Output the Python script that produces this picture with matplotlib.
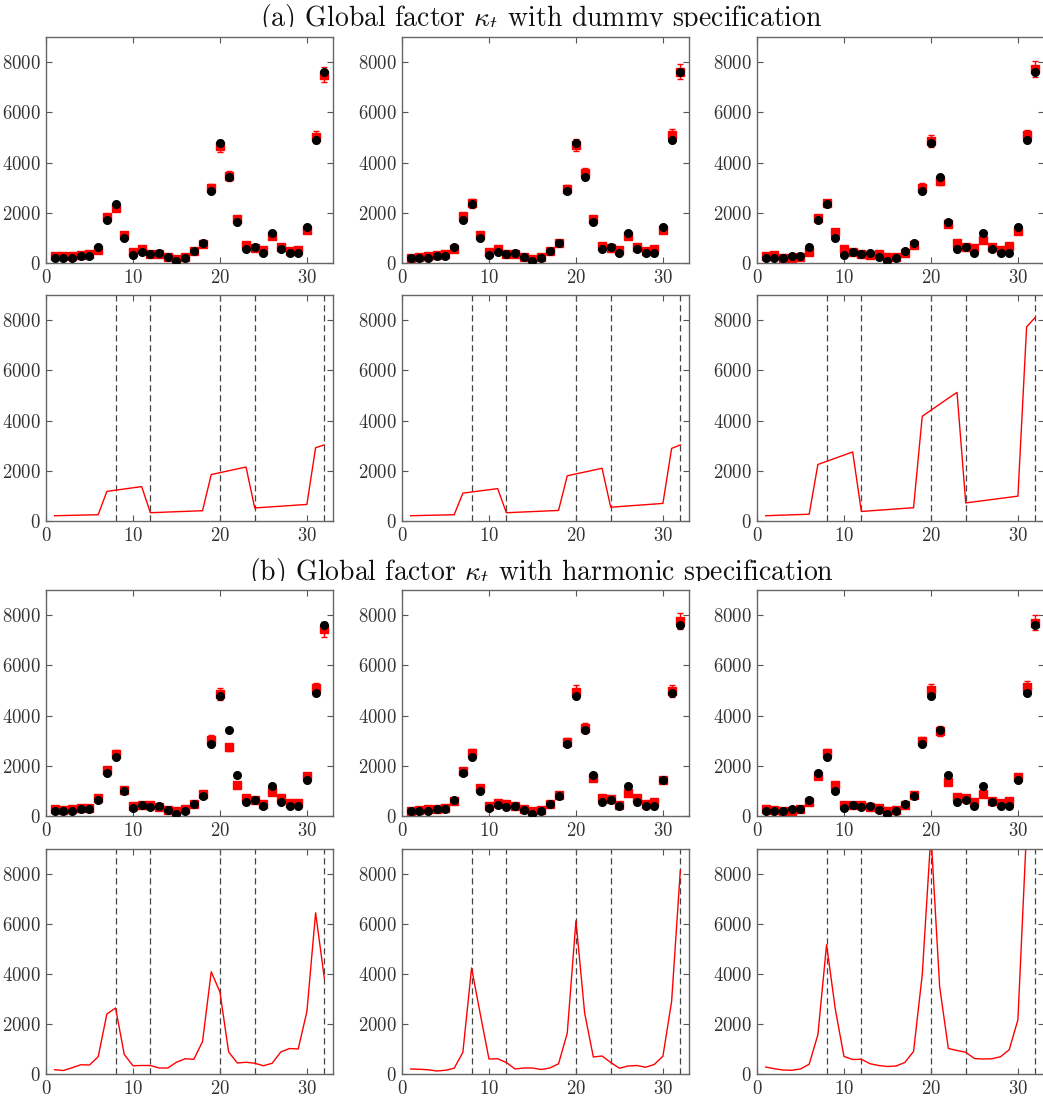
import matplotlib
matplotlib.use("Agg")
import matplotlib.pyplot as plt
from matplotlib.transforms import Bbox, TransformedBbox

plt.rcParams["font.family"] = ["cmr10", "DejaVu Serif"]
plt.rcParams["mathtext.fontset"] = "cm"
plt.rcParams["axes.formatter.use_mathtext"] = True
plt.rcParams["axes.unicode_minus"] = False

t = list(range(1, 33))
breaks = [8, 12, 20, 24, 32]

# observed counts, same in every panel
observed = [200, 200, 200, 260, 270, 630, 1700, 2330, 1000, 310, 430, 370,
            400, 230, 90, 180, 460, 780, 2870, 4790, 3430, 1630, 540, 630,
            390, 1190, 570, 400, 410, 1440, 4900, 7620]

# fitted means, dummy specification (three models)
fit_dummy = [
    [260, 260, 260, 300, 340, 520, 1850, 2200, 1120, 450, 560, 350,
     360, 250, 150, 230, 490, 750, 3000, 4650, 3450, 1750, 730, 600,
     500, 1080, 640, 490, 530, 1320, 5020, 7500],
    [200, 240, 290, 330, 370, 560, 1890, 2370, 1120, 430, 550, 350,
     360, 230, 150, 250, 490, 790, 2950, 4700, 3600, 1770, 660, 600,
     500, 1080, 640, 470, 570, 1300, 5080, 7620],
    [280, 310, 210, 210, 250, 440, 1800, 2370, 1250, 560, 430, 350,
     310, 350, 250, 250, 410, 720, 3000, 4850, 3280, 1540, 790, 620,
     580, 920, 620, 530, 660, 1260, 5080, 7720],
]
err_dummy = [
    [20, 20, 20, 20, 20, 30, 90, 110, 60, 30, 30, 20,
     20, 20, 10, 20, 30, 40, 150, 230, 200, 90, 40, 30,
     30, 50, 30, 30, 30, 70, 250, 300],
    [20, 20, 20, 20, 20, 30, 90, 170, 60, 30, 30, 20,
     20, 20, 10, 20, 30, 40, 170, 240, 200, 90, 40, 30,
     30, 50, 30, 30, 30, 70, 250, 310],
    [20, 20, 20, 20, 20, 30, 90, 150, 60, 30, 30, 20,
     20, 20, 10, 20, 30, 40, 170, 250, 180, 80, 40, 30,
     30, 50, 30, 30, 30, 70, 230, 310],
]

# fitted means, harmonic specification
fit_harm = [
    [260, 220, 270, 330, 320, 700, 1850, 2480, 1020, 400, 440, 420,
     350, 250, 200, 290, 470, 880, 3040, 4870, 2730, 1250, 700, 650,
     480, 940, 720, 520, 520, 1580, 5080, 7430],
    [200, 240, 280, 280, 310, 580, 1800, 2500, 1100, 400, 500, 470,
     390, 260, 200, 250, 480, 840, 2950, 4950, 3500, 1500, 700, 670,
     450, 900, 720, 480, 540, 1450, 4980, 7750],
    [260, 250, 200, 200, 260, 540, 1580, 2500, 1250, 450, 420, 430,
     370, 300, 200, 250, 440, 850, 2980, 5000, 3380, 1360, 760, 700,
     560, 870, 600, 500, 600, 1550, 5120, 7700],
]
err_harm = [
    [20, 20, 20, 20, 20, 40, 90, 160, 60, 30, 30, 30,
     20, 20, 10, 20, 30, 50, 190, 240, 150, 70, 40, 40,
     30, 50, 40, 30, 30, 90, 230, 310],
    [20, 20, 20, 20, 20, 30, 90, 170, 60, 30, 30, 30,
     20, 20, 10, 20, 30, 50, 150, 260, 190, 80, 40, 40,
     30, 50, 40, 30, 30, 80, 240, 320],
    [20, 20, 20, 20, 20, 30, 80, 180, 60, 30, 30, 30,
     20, 20, 10, 20, 30, 50, 170, 240, 200, 80, 40, 40,
     30, 50, 30, 30, 30, 80, 240, 310],
]

# global factor kappa_t
kappa_dummy = [
    [210, 218, 226, 234, 242, 250, 1180, 1228, 1275, 1322, 1370, 330,
     343, 357, 370, 383, 397, 410, 1850, 1925, 2000, 2075, 2150, 520,
     543, 567, 590, 613, 637, 660, 2920, 3030],
    [210, 218, 226, 234, 242, 250, 1110, 1155, 1200, 1245, 1290, 330,
     345, 360, 375, 390, 405, 420, 1800, 1875, 1950, 2025, 2100, 550,
     575, 600, 625, 650, 675, 700, 2890, 3030],
    [210, 222, 234, 246, 258, 270, 2250, 2375, 2500, 2625, 2750, 380,
     405, 430, 455, 480, 505, 530, 4170, 4410, 4650, 4890, 5120, 720,
     765, 810, 855, 900, 945, 990, 7730, 8110],
]
kappa_harm = [
    [170, 140, 250, 370, 360, 690, 2400, 2640, 780, 330, 340, 340,
     240, 240, 470, 610, 590, 1300, 4090, 3280, 880, 440, 470, 430,
     330, 430, 880, 1020, 1000, 2500, 6450, 3840],
    [200, 190, 170, 120, 150, 230, 870, 4240, 2400, 600, 610, 460,
     200, 240, 240, 180, 240, 410, 1630, 6130, 2440, 680, 720, 460,
     230, 320, 340, 270, 380, 710, 2900, 8130],
    [280, 210, 160, 150, 200, 390, 1570, 5170, 2600, 700, 580, 590,
     410, 340, 300, 320, 460, 900, 3970, 9600, 3500, 1020, 940, 870,
     620, 600, 610, 690, 970, 2170, 9800, 12000],
]

W, H = 1043, 1099
fig = plt.figure(figsize=(W / 100, H / 100), dpi=100)

col_left = [46, 402, 757]
ax_w = 287
row_span = [(37, 263), (295, 521), (590, 816), (849, 1074)]


def make_axes(col, row):
    top, bottom = row_span[row]
    ax = fig.add_axes([col_left[col] / W, 1 - bottom / H,
                       ax_w / W, (bottom - top) / H])
    ax.set_xlim(0, 33)
    ax.set_ylim(0, 9000)
    ax.set_xticks([0, 10, 20, 30])
    ax.set_yticks([0, 2000, 4000, 6000, 8000])
    ax.tick_params(direction="in", top=True, right=True, length=4,
                   width=0.8, colors="#555555", labelcolor="#333333",
                   labelsize=13.5, pad=4)
    for sp in ax.spines.values():
        sp.set_color("#666666")
        sp.set_linewidth(1.0)
    return ax


def fit_panel(ax, fit, err):
    ax.errorbar(t, fit, yerr=err, fmt="s", color="red", ms=5.5, lw=1,
                capsize=2.5, capthick=1, zorder=2)
    ax.plot(t, observed, "o", color="black", ms=5.5, zorder=3)


def kappa_panel(ax, kappa):
    for b in breaks:
        ax.axvline(b, color="#444444", lw=0.9, ls=(0, (5, 3)), zorder=1)
    ax.plot(t, kappa, color="red", lw=1, zorder=2)


for j in range(3):
    fit_panel(make_axes(j, 0), fit_dummy[j], err_dummy[j])
    kappa_panel(make_axes(j, 1), kappa_dummy[j])
    fit_panel(make_axes(j, 2), fit_harm[j], err_harm[j])
    kappa_panel(make_axes(j, 3), kappa_harm[j])


def section_title(text, y_px, clip_px):
    # the line is cut just under its baseline by the panels below
    txt = fig.text(541 / W, 1 - y_px / H, text, ha="center", va="baseline",
                   fontsize=20, color="#111111")
    box = TransformedBbox(Bbox([[0, 1 - clip_px / H], [1, 1]]),
                          fig.transFigure)
    txt.set_clip_box(box)
    txt.set_clip_on(True)


section_title(r"(a) Global factor $\kappa_t$ with dummy specification", 26, 27)
section_title(r"(b) Global factor $\kappa_t$ with harmonic specification", 580, 581)

fig.savefig("out.png", dpi=100)
